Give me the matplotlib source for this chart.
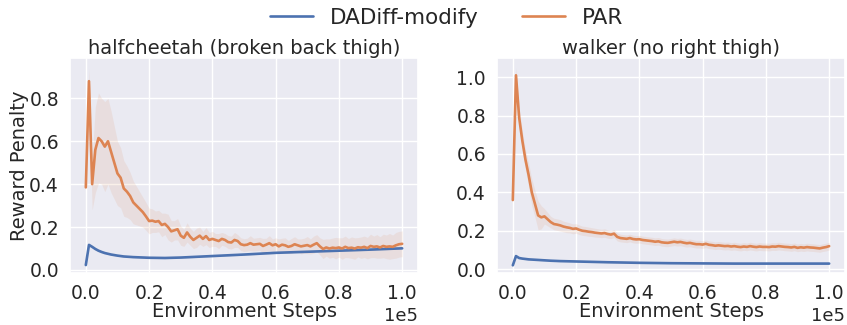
import numpy as np
import matplotlib
matplotlib.use("Agg")
import matplotlib.pyplot as plt
import seaborn as sns

# ---------------- data ----------------
steps = np.arange(0, 101000, 1000)
blue_steps = np.array([0, 1, 2, 3, 4, 5, 6, 8, 10, 12, 15, 20, 25, 30, 40, 50, 60, 70, 80, 90, 100]) * 1000

hc_par_mean = [
    0.385, 0.88, 0.40, 0.56, 0.615, 0.60, 0.575, 0.60, 0.55, 0.50,
    0.45, 0.43, 0.38, 0.365, 0.345, 0.315, 0.30, 0.285, 0.27, 0.25,
    0.228, 0.23, 0.225, 0.228, 0.21, 0.215, 0.20, 0.18, 0.185, 0.19,
    0.16, 0.15, 0.175, 0.155, 0.14, 0.15, 0.16, 0.145, 0.158, 0.14,
    0.145, 0.14, 0.135, 0.145, 0.14, 0.13, 0.128, 0.14, 0.135, 0.12,
    0.116, 0.118, 0.125, 0.118, 0.12, 0.122, 0.112, 0.118, 0.125, 0.115,
    0.12, 0.11, 0.118, 0.115, 0.108, 0.112, 0.12, 0.115, 0.11, 0.113,
    0.116, 0.11, 0.118, 0.125, 0.11, 0.098, 0.105, 0.10, 0.104, 0.102,
    0.105, 0.10, 0.108, 0.102, 0.104, 0.10, 0.106, 0.104, 0.108, 0.102,
    0.112, 0.108, 0.11, 0.105, 0.112, 0.108, 0.11, 0.108, 0.115, 0.12,
    0.122]
hc_par_std = [
    0.01, 0.06, 0.12, 0.20, 0.21, 0.20, 0.21, 0.20, 0.19, 0.17,
    0.15, 0.14, 0.13, 0.12, 0.11, 0.10, 0.09, 0.08, 0.07, 0.065,
    0.06, 0.055, 0.05, 0.05, 0.055, 0.05, 0.06, 0.05, 0.045, 0.05,
    0.045, 0.04, 0.045, 0.04, 0.04, 0.045, 0.04, 0.035, 0.04, 0.035,
    0.035, 0.03, 0.035, 0.03, 0.03, 0.03, 0.03, 0.035, 0.03, 0.03,
    0.03, 0.03, 0.035, 0.03, 0.03, 0.03, 0.035, 0.03, 0.035, 0.03,
    0.03, 0.035, 0.03, 0.035, 0.03, 0.035, 0.035, 0.03, 0.035, 0.035,
    0.04, 0.035, 0.04, 0.04, 0.04, 0.045, 0.04, 0.045, 0.045, 0.05,
    0.045, 0.05, 0.05, 0.045, 0.05, 0.05, 0.045, 0.05, 0.05, 0.05,
    0.055, 0.05, 0.055, 0.05, 0.055, 0.055, 0.06, 0.055, 0.06, 0.06,
    0.06]
hc_dad_mean = [0.023, 0.117, 0.108, 0.098, 0.09, 0.084, 0.079, 0.072, 0.067, 0.063,
               0.06, 0.057, 0.056, 0.058, 0.065, 0.072, 0.08, 0.085, 0.09, 0.095, 0.101]
hc_dad_std = [0.002, 0.006, 0.005, 0.004, 0.004, 0.003, 0.003, 0.003, 0.003, 0.003,
              0.003, 0.003, 0.003, 0.003, 0.003, 0.003, 0.003, 0.003, 0.003, 0.003, 0.003]

wk_par_mean = [
    0.36, 1.01, 0.79, 0.67, 0.57, 0.49, 0.40, 0.34, 0.28, 0.27,
    0.275, 0.26, 0.245, 0.235, 0.232, 0.228, 0.222, 0.218, 0.215, 0.21,
    0.212, 0.205, 0.20, 0.198, 0.195, 0.193, 0.19, 0.188, 0.186, 0.188,
    0.183, 0.18, 0.185, 0.168, 0.162, 0.16, 0.158, 0.162, 0.157, 0.155,
    0.156, 0.152, 0.15, 0.148, 0.146, 0.143, 0.145, 0.14, 0.138, 0.137,
    0.14, 0.143, 0.14, 0.142, 0.138, 0.135, 0.137, 0.133, 0.13, 0.13,
    0.128, 0.132, 0.127, 0.125, 0.122, 0.124, 0.122, 0.12, 0.121, 0.118,
    0.12, 0.117, 0.115, 0.118, 0.116, 0.12, 0.117, 0.115, 0.118, 0.116,
    0.116, 0.115, 0.118, 0.117, 0.12, 0.118, 0.116, 0.115, 0.113, 0.116,
    0.111, 0.114, 0.112, 0.115, 0.113, 0.112, 0.11, 0.108, 0.112, 0.115,
    0.12]
wk_par_std = [
    0.01, 0.04, 0.05, 0.05, 0.05, 0.06, 0.07, 0.07, 0.075, 0.06,
    0.04, 0.035, 0.03, 0.03, 0.03, 0.03, 0.028, 0.028, 0.026, 0.026,
    0.025, 0.025, 0.024, 0.024, 0.024, 0.023, 0.023, 0.022, 0.022, 0.022,
    0.022, 0.021, 0.021, 0.021, 0.02, 0.02, 0.02, 0.02, 0.02, 0.02,
    0.02, 0.02, 0.02, 0.02, 0.02, 0.02, 0.02, 0.02, 0.02, 0.02,
    0.02, 0.02, 0.02, 0.02, 0.02, 0.02, 0.02, 0.02, 0.02, 0.02,
    0.02, 0.02, 0.02, 0.02, 0.02, 0.02, 0.02, 0.02, 0.02, 0.02,
    0.02, 0.02, 0.02, 0.02, 0.02, 0.02, 0.02, 0.02, 0.02, 0.02,
    0.02, 0.02, 0.02, 0.02, 0.02, 0.02, 0.02, 0.02, 0.02, 0.02,
    0.02, 0.02, 0.02, 0.02, 0.02, 0.02, 0.02, 0.02, 0.02, 0.02,
    0.02]
wk_dad_mean = [0.02, 0.068, 0.058, 0.055, 0.053, 0.051, 0.05, 0.048, 0.046, 0.044,
               0.042, 0.04, 0.038, 0.036, 0.033, 0.031, 0.03, 0.029, 0.029, 0.029, 0.029]
wk_dad_std = [0.002, 0.004, 0.003, 0.003, 0.003, 0.003, 0.003, 0.003, 0.003, 0.003,
              0.003, 0.002, 0.002, 0.002, 0.002, 0.002, 0.002, 0.002, 0.002, 0.002, 0.002]

titles = ["halfcheetah (broken back thigh)", "walker (no right thigh)"]
series_names = ["DADiff-modify", "PAR"]
xticks = [0, 20000, 40000, 60000, 80000, 100000]

# ---------------- style ----------------
sns.set_theme(style="darkgrid")
plt.rcParams['font.family'] = ['DejaVu Sans']

fig = plt.figure(figsize=(8.47, 3.25), dpi=100)
axL = fig.add_axes([70 / 847, 52 / 325, 348 / 847, 215 / 325])
axR = fig.add_axes([497 / 847, 52 / 325, 348 / 847, 215 / 325])

blue = sns.color_palette()[0]
orange = sns.color_palette()[1]

panels = [
    (axL, hc_dad_mean, hc_dad_std, hc_par_mean, hc_par_std, (-0.014, 0.988), [0.0, 0.2, 0.4, 0.6, 0.8]),
    (axR, wk_dad_mean, wk_dad_std, wk_par_mean, wk_par_std, (-0.02, 1.1), [0.0, 0.2, 0.4, 0.6, 0.8, 1.0]),
]

handles = []
for i, (ax, dm, ds, pm, ps, ylim, yt) in enumerate(panels):
    dm = np.array(dm); ds = np.array(ds); pm = np.array(pm); ps = np.array(ps)
    h1, = ax.plot(blue_steps, dm, color=blue, lw=1.9)
    ax.fill_between(blue_steps, dm - ds, dm + ds, color=blue, alpha=0.12, lw=0)
    h2, = ax.plot(steps, pm, color=orange, lw=1.9)
    ax.fill_between(steps, pm - ps, pm + ps, color=orange, alpha=0.12, lw=0)
    if i == 0:
        handles = [h1, h2]
    ax.set_xlim(-5000, 105000)
    ax.set_ylim(*ylim)
    ax.set_yticks(yt)
    ax.set_xticks(xticks)
    ax.ticklabel_format(axis='x', style='sci', scilimits=(0, 0))
    ax.xaxis.get_offset_text().set_fontsize(13)
    ax.tick_params(axis='both', labelsize=13.5, pad=2)
    ax.set_xlabel("Environment Steps", fontsize=14, labelpad=-1)
    ax.set_title(titles[i], fontsize=14, pad=3)

axL.set_ylabel("Reward Penalty", fontsize=14, labelpad=0)

fig.legend(handles, series_names, loc='upper center', bbox_to_anchor=(0.527, 1.035),
           ncol=2, frameon=False, fontsize=15.5, handlelength=2.0, columnspacing=2.0)

fig.savefig("out.png", dpi=100)
